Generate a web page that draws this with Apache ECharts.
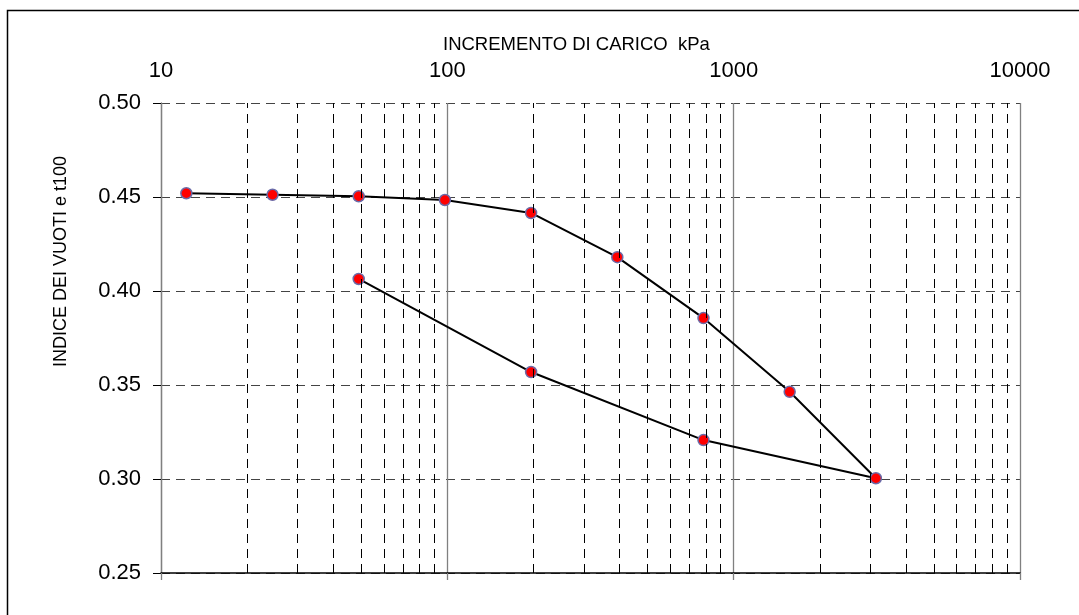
<!DOCTYPE html>
<html>
<head>
<meta charset="utf-8">
<script src="https://cdn.jsdelivr.net/npm/echarts@6/dist/echarts.min.js"></script>
<style>
  html, body { margin: 0; padding: 0; background: #fff; }
  #chart { width: 1079px; height: 615px; }
</style>
</head>
<body>
<div id="chart"></div>
<script>
// load steps in kPa (kg/cm2 x 98.07), void ratio at t100
const loadKpa = [12.26, 24.52, 49.03, 98.07, 196.1, 392.3, 784.5, 1569, 3138];
const loadVoid = [0.452, 0.4512, 0.4504, 0.4484, 0.4415, 0.418, 0.3856, 0.3464, 0.3004];
// unloading branch, starting from the last load step
const unloadKpa = [784.5, 196.1, 49.03];
const unloadVoid = [0.3207, 0.3569, 0.4064];

// minor log grid lines
const minorGrid = [20, 30, 40, 50, 60, 70, 80, 90,
  200, 300, 400, 500, 600, 700, 800, 900,
  2000, 3000, 4000, 5000, 6000, 7000, 8000, 9000];

const FONT = '"Liberation Sans", Arial, sans-serif';

const chart = echarts.init(document.getElementById('chart'));

const curve = loadKpa.map((x, i) => [x, loadVoid[i]])
  .concat(unloadKpa.map((x, i) => [x, unloadVoid[i]]));

chart.setOption({
  animation: false,
  grid: { left: 161, right: 59, top: 103, bottom: 42 },
  graphic: [
    {
      type: 'polyline',
      shape: { points: [[7.5, 615], [7.5, 10.5], [1079, 10.5]] },
      style: { stroke: '#000', lineWidth: 1.5, fill: null },
    },
    {
      type: 'text',
      left: 443, top: 35,
      style: { text: 'INCREMENTO DI CARICO  kPa', font: '18.5px ' + FONT, fill: '#000' },
    },
    {
      type: 'text',
      x: 52, y: 367, rotation: Math.PI / 2,
      style: { text: 'INDICE DEI VUOTI e t100', font: '18px ' + FONT, fill: '#000' },
    },
  ],
  xAxis: [
    {
      type: 'log',
      logBase: 10,
      min: 10,
      max: 10000,
      position: 'top',
      axisLine: { show: false },
      axisTick: { show: false },
      axisLabel: {
        color: '#000', fontSize: 22, fontFamily: FONT, margin: 21,
        formatter: (v) => String(Math.round(v)),
      },
      splitLine: { show: true, lineStyle: { color: '#808080', width: 1.3 } },
    },
    {
      type: 'log',
      logBase: 10,
      min: 10,
      max: 10000,
      position: 'bottom',
      axisLine: { show: true, onZero: false, lineStyle: { color: '#000', width: 1.5 } },
      axisTick: { show: true, length: 7, lineStyle: { color: '#808080', width: 1.3 } },
      axisLabel: { show: false },
      splitLine: { show: false },
    },
  ],
  yAxis: {
    type: 'value',
    min: 0.25,
    max: 0.5,
    interval: 0.05,
    axisLine: { show: true, lineStyle: { color: '#808080', width: 1.3 } },
    axisTick: { show: true, length: 8, lineStyle: { color: '#000' } },
    axisLabel: {
      color: '#000', fontSize: 22, fontFamily: FONT, margin: 20,
      formatter: (v) => v.toFixed(2),
    },
    splitLine: { show: true, lineStyle: { color: '#444', type: [9, 6], width: 1 } },
  },
  series: [
    {
      name: 'grid',
      type: 'line',
      data: [],
      silent: true,
      z: 1,
      markLine: {
        silent: true,
        symbol: 'none',
        label: { show: false },
        lineStyle: { color: '#000', type: [9, 6], width: 1 },
        data: minorGrid.map((v) => ({ xAxis: v })),
      },
    },
    {
      name: 'e t100',
      type: 'line',
      data: curve,
      z: 3,
      symbol: 'circle',
      symbolSize: 11,
      lineStyle: { color: '#000', width: 2 },
      itemStyle: { color: '#ff0000', borderColor: '#6b6ba8', borderWidth: 1.5 },
    },
  ],
});
</script>
</body>
</html>
